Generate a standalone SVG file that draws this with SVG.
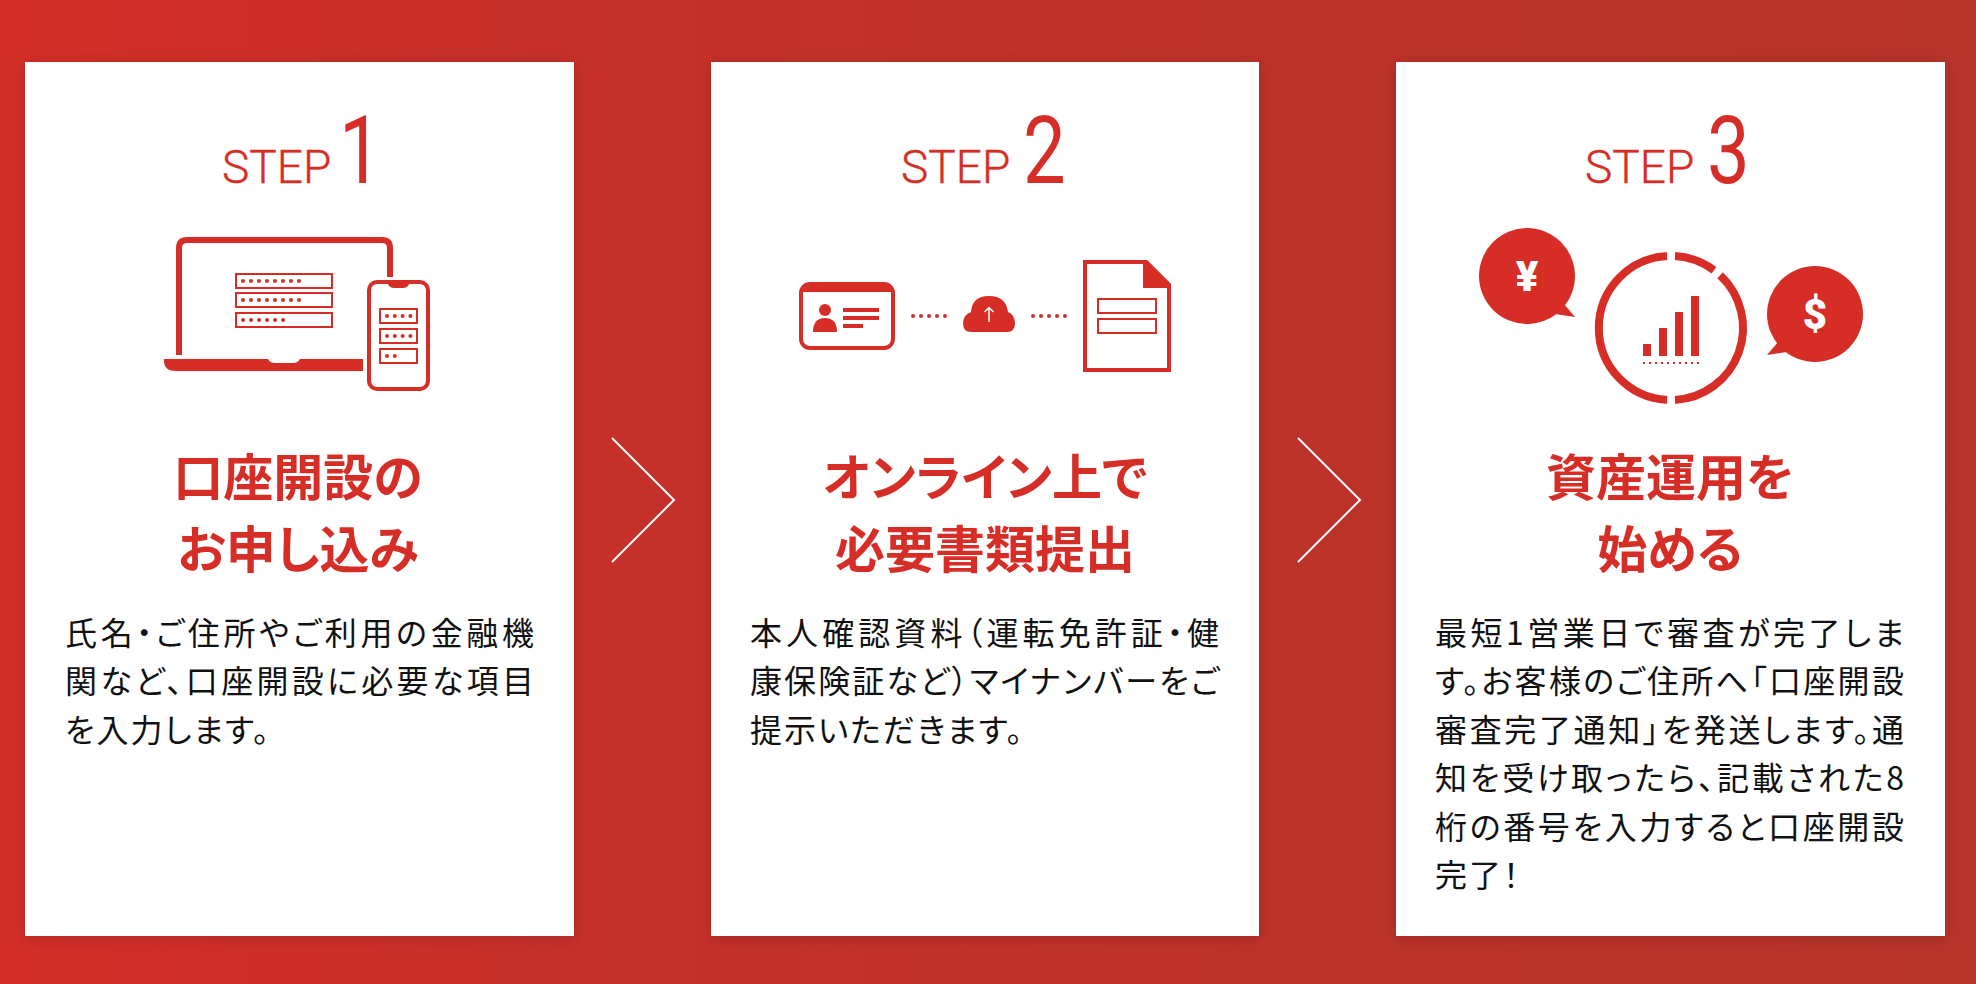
<svg xmlns="http://www.w3.org/2000/svg" width="1976" height="984" viewBox="0 0 1976 984">
<style>
.card{fill:#fff}
.st{font-family:Roboto,"Liberation Sans",sans-serif;font-weight:300;font-size:46px;fill:#d62e26;stroke:#d62e26;stroke-width:.4}
.nm{font-family:Roboto,"Liberation Sans",sans-serif;font-weight:400;font-size:95px;fill:#d62e26}
.hd{font-family:"Noto Sans CJK JP",sans-serif;font-weight:700;font-size:50px;fill:#d62e26;text-anchor:middle;font-feature-settings:"palt"}
.bd{font-family:"Noto Sans CJK JP",sans-serif;font-weight:400;font-size:32px;fill:#111;font-feature-settings:"palt"}
.ls{letter-spacing:2px}
.r{fill:#d62e26}
.o{fill:none;stroke:#d62e26}
.f{fill:none;stroke:#d62e26;stroke-width:2}
.sym{font-family:Roboto,"Liberation Sans",sans-serif;font-weight:900;font-size:42px;fill:#fff;text-anchor:middle}
.chev{fill:none;stroke:#fff;stroke-width:2}
.dots{fill:none;stroke:#d62e26;stroke-width:4;stroke-linecap:round;stroke-dasharray:0 8}
.pd{stroke-dasharray:0 7.800}
</style>
<defs>
<linearGradient id="bg" x1="0" y1="0" x2="1" y2="0"><stop offset="0" stop-color="#d32e27"/><stop offset=".33" stop-color="#c4302a"/><stop offset=".67" stop-color="#bc3229"/><stop offset="1" stop-color="#b7342a"/></linearGradient>
<filter id="sh" x="-5%" y="-5%" width="110%" height="110%"><feDropShadow dx="0" dy="2" stdDeviation="7" flood-color="#000" flood-opacity="0.16"/></filter>
</defs>
<rect width="1976" height="984" fill="url(#bg)"/>
<g id="connectors">
<path class="chev" d="M612 438L674 500L612 562"/>
<path class="chev" d="M1298 438L1360 500L1298 562"/>
</g>
<g id="step1">
<rect class="card" x="25" y="62" width="549" height="874" filter="url(#sh)"/>
<text class="st" x="222" y="183">STEP</text>
<text class="nm" transform="translate(339 183) scale(.8 1)">1</text>
<path class="o" stroke-width="6" d="M179 355V248Q179 240 187 240H382Q390 240 390 248V277"/>
<path class="r" d="M164 359H268Q270 363 275 363H293Q298 363 300 359H363V371H176Q164 371 164 361Z"/>
<rect class="f" x="236" y="274" width="96" height="14"/><rect class="f" x="236" y="293" width="96" height="14"/><rect class="f" x="236" y="313" width="96" height="14"/>
<path class="dots" d="M243 281H299.500M243 300H299.500M243 320H283.500"/>
<rect class="o" stroke-width="4" x="369" y="282" width="59" height="107" rx="8"/>
<path class="r" d="M387 281H410Q409 288 403 288H394Q388 288 387 281Z"/>
<rect class="f" x="380" y="309" width="37" height="14"/><rect class="f" x="380" y="329" width="37" height="14"/><rect class="f" x="380" y="349" width="37" height="14"/>
<path class="dots pd" d="M387 316H411M387 336H411M387 356H395.500"/>
<text class="hd" x="298" y="496">口座開設の</text>
<text class="hd" x="298" y="568">お申し込み</text>
<text class="bd" x="65" y="645" textLength="469">氏名・ご住所やご利用の金融機</text>
<text class="bd" x="65" y="693" textLength="469">関など、口座開設に必要な項目</text>
<text class="bd ls" x="65" y="742">を入力します。</text>
</g>
<g id="step2">
<rect class="card" x="711" y="62" width="548" height="874" filter="url(#sh)"/>
<text class="st" x="901" y="183">STEP</text>
<text class="nm" transform="translate(1023 183) scale(.8 1)">2</text>
<rect class="o" stroke-width="4" x="801" y="284" width="92" height="64" rx="9"/>
<path class="r" d="M801 292V290Q801 284 808 284H886Q893 284 893 290V292Z"/>
<circle class="r" cx="825" cy="310" r="6"/>
<path class="r" d="M813 332Q813 318 825 318Q837 318 837 332Z"/>
<rect class="r" x="843" y="308" width="36" height="4"/><rect class="r" x="843" y="316" width="36" height="4"/><rect class="r" x="843" y="324" width="20" height="4"/>
<path class="dots" d="M913 316H945.500M1033 316H1065.500"/>
<path class="r" d="M971 332Q963 332 963 323Q963 315 971 312Q972 296 989 296Q1006 296 1008 312Q1015 315 1015 323Q1015 332 1007 332Z"/>
<path d="M989 322V308M984.500 312L989 307.500L993.500 312" fill="none" stroke="#fff" stroke-width="1.500"/>
<path class="o" stroke-width="4" d="M1085 370V262H1146L1169 285V370Z"/>
<path class="r" d="M1143 260H1147L1171 284V288H1143Z"/>
<rect class="f" x="1098" y="299" width="58" height="14"/><rect class="f" x="1098" y="319" width="58" height="14"/>
<text class="hd" x="985" y="496">オンライン上で</text>
<text class="hd" x="985" y="568">必要書類提出</text>
<text class="bd" x="750" y="645" textLength="469">本人確認資料（運転免許証・健</text>
<text class="bd" x="750" y="693" textLength="469">康保険証など）マイナンバーをご</text>
<text class="bd ls" x="750" y="742">提示いただきます。</text>
</g>
<g id="step3">
<rect class="card" x="1396" y="62" width="549" height="874" filter="url(#sh)"/>
<text class="st" x="1585" y="183">STEP</text>
<text class="nm" transform="translate(1707 183) scale(.8 1)">3</text>
<circle class="r" cx="1527" cy="276" r="48"/>
<path class="r" d="M1564 304L1575 317L1555 314Z"/>
<text class="sym" x="1527" y="291">¥</text>
<circle class="r" cx="1815" cy="314" r="48"/>
<path class="r" d="M1778 342L1767 355L1787 352Z"/>
<text class="sym" x="1815" y="329">$</text>
<g class="o" stroke-width="8" fill="none">
<path d="M1667 256.100A72 72 0 0 0 1667 399.900"/>
<path d="M1675 399.900A72 72 0 0 0 1720.100 275.300"/>
<path d="M1714 270.300A72 72 0 0 0 1675 256.100"/>
</g>
<rect class="r" x="1643" y="344" width="8" height="12"/><rect class="r" x="1659" y="328" width="8" height="28"/><rect class="r" x="1675" y="312" width="8" height="44"/><rect class="r" x="1691" y="296" width="8" height="60"/>
<path d="M1643 363H1699" stroke="#d62e26" stroke-width="2" stroke-dasharray="2 4" fill="none"/>
<text class="hd" x="1670" y="496">資産運用を</text>
<text class="hd" x="1670" y="568">始める</text>
<text class="bd" x="1435" y="645" textLength="469">最短1営業日で審査が完了しま</text>
<text class="bd" x="1435" y="693" textLength="469">す。お客様のご住所へ「口座開設</text>
<text class="bd" x="1435" y="742" textLength="469">審査完了通知」を発送します。通</text>
<text class="bd" x="1435" y="790" textLength="469">知を受け取ったら、記載された8</text>
<text class="bd" x="1435" y="839" textLength="469">桁の番号を入力すると口座開設</text>
<text class="bd ls" x="1435" y="887">完了！</text>
</g>
</svg>
